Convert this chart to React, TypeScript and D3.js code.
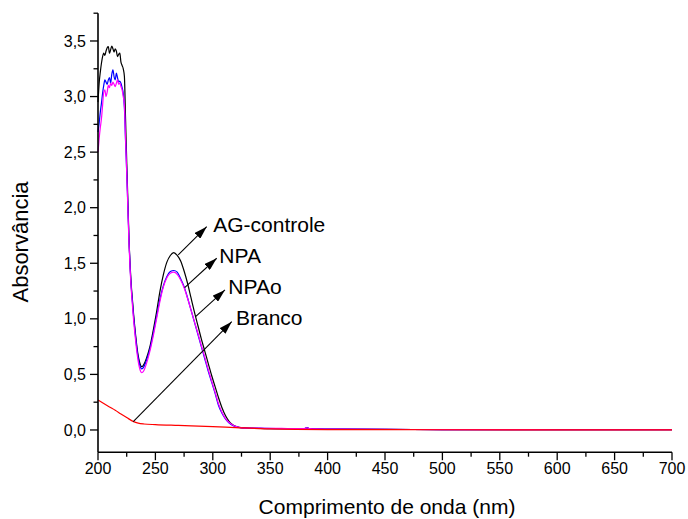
import React from "react";
import * as d3 from "d3";

// Wavelength grid (nm) shared by the three sample spectra
const lambda = [
  200, 201, 202, 203, 204, 205, 206, 207, 208, 209, 210, 211, 212, 213, 214, 215, 216, 217, 218, 219, 220, 221, 222, 223, 224,
  225, 226, 227, 228, 229, 230, 231, 232, 233, 234, 235, 236, 237, 238, 239, 240,
  242, 245, 248, 251, 254, 257, 260, 263, 266, 269, 272, 275, 278, 281, 284, 287, 290, 293, 296, 299, 302, 305, 308, 311, 314, 317, 320, 323, 326, 329,
  335, 345, 355, 365, 375, 380, 382, 384, 390, 400, 450, 500, 550, 600, 650, 700,
];

const agControle = [
  2.95, 3.12, 3.22, 3.30, 3.36, 3.39, 3.37, 3.41, 3.44, 3.45, 3.39, 3.42, 3.455, 3.43, 3.40, 3.43, 3.41, 3.36, 3.38, 3.39, 3.31, 3.28, 3.25, 3.18, 2.80,
  2.42, 2.07, 1.72, 1.48, 1.30, 1.17, 1.04, 0.93, 0.83, 0.74, 0.67, 0.62, 0.585, 0.57, 0.575, 0.59,
  0.64, 0.74, 0.89, 1.06, 1.25, 1.40, 1.51, 1.57, 1.595, 1.57, 1.52, 1.43, 1.32, 1.19, 1.06, 0.94, 0.82, 0.71, 0.60, 0.49, 0.39, 0.29, 0.20, 0.13, 0.08, 0.05, 0.033, 0.024, 0.019, 0.017,
  0.015, 0.013, 0.012, 0.012, 0.011, 0.012, 0.02, 0.012, 0.009, 0.008, 0.005, 0.004, 0.003, 0.002, 0.002, 0.002,
];

const npa = [
  2.68, 2.76, 2.86, 2.94, 3.03, 3.10, 3.15, 3.13, 3.11, 3.15, 3.17, 3.12, 3.20, 3.24, 3.18, 3.15, 3.21, 3.17, 3.13, 3.14, 3.12, 3.08, 3.03, 2.90, 2.60,
  2.33, 2.02, 1.70, 1.46, 1.28, 1.15, 1.02, 0.91, 0.81, 0.72, 0.65, 0.60, 0.565, 0.55, 0.555, 0.57,
  0.62, 0.72, 0.86, 1.02, 1.18, 1.30, 1.38, 1.425, 1.435, 1.42, 1.36, 1.29, 1.19, 1.08, 0.97, 0.86, 0.75, 0.64, 0.53, 0.43, 0.33, 0.22, 0.15, 0.10, 0.065, 0.043, 0.03, 0.022, 0.018, 0.016,
  0.016, 0.014, 0.013, 0.013, 0.012, 0.013, 0.022, 0.012, 0.009, 0.008, 0.005, 0.004, 0.003, 0.002, 0.002, 0.002,
];

const npao = [
  2.50, 2.62, 2.72, 2.80, 2.92, 3.04, 3.06, 3.00, 3.04, 3.10, 3.08, 3.12, 3.10, 3.13, 3.11, 3.09, 3.12, 3.15, 3.11, 3.12, 3.09, 3.06, 3.00, 2.92, 2.62,
  2.32, 2.00, 1.68, 1.44, 1.26, 1.12, 0.99, 0.88, 0.78, 0.69, 0.62, 0.565, 0.53, 0.515, 0.52, 0.535,
  0.59, 0.70, 0.84, 1.00, 1.16, 1.29, 1.37, 1.41, 1.42, 1.40, 1.35, 1.28, 1.185, 1.08, 0.975, 0.87, 0.76, 0.655, 0.545, 0.44, 0.34, 0.235, 0.16, 0.105, 0.07, 0.047, 0.032, 0.024, 0.019, 0.017,
  0.017, 0.015, 0.014, 0.013, 0.012, 0.013, 0.02, 0.012, 0.009, 0.008, 0.005, 0.004, 0.003, 0.002, 0.002, 0.002,
];

// Blank (Branco) spectrum
const lambdaBranco = [200, 205, 210, 215, 220, 225, 231, 235, 240, 250, 270, 300, 320, 350, 400, 500, 700];
const branco = [0.27, 0.238, 0.207, 0.177, 0.144, 0.112, 0.075, 0.062, 0.054, 0.048, 0.041, 0.031, 0.022, 0.01, 0.004, 0.002, 0.001];

const xTicks = [200, 250, 300, 350, 400, 450, 500, 550, 600, 650, 700];
const xMinorTicks = [225, 275, 325, 375, 425, 475, 525, 575, 625, 675];
const yTicks = [0, 0.5, 1.0, 1.5, 2.0, 2.5, 3.0, 3.5];
const yMinorTicks = [0.25, 0.75, 1.25, 1.75, 2.25, 2.75, 3.25, 3.75];

const xLabel = "Comprimento de onda (nm)";
const yLabel = "Absorvância";

// Annotations: label, arrow start (on curve), arrow tip, text anchor (data units)
const annLabels = ["AG-controle", "NPA", "NPAo", "Branco"];
const annStart = [[269.9, 1.575], [275.5, 1.28], [285.0, 1.02], [230.7, 0.075]];
const annTip = [[294.7, 1.829], [303.4, 1.545], [310.6, 1.26], [316.5, 0.974]];
const annText = [[300.4, 1.784], [305.7, 1.50], [313.5, 1.221], [320.2, 0.945]];

const FONT = "'Liberation Sans', Arial, Helvetica, sans-serif";

export default function App() {
  const W = 688;
  const H = 519;
  const x = d3.scaleLinear().domain([200, 700]).range([98, 672]);
  const y = d3.scaleLinear().domain([-0.2, 3.75]).range([452.2, 13.2]);

  const line = d3
    .line<[number, number]>()
    .x((d) => x(d[0]))
    .y((d) => y(d[1]))
    .curve(d3.curveMonotoneX);

  const mk = (xs: number[], ys: number[]) => xs.map((v, i) => [v, ys[i]] as [number, number]);

  const series = [
    { data: mk(lambda, agControle), color: "#000000" },
    { data: mk(lambda, npa), color: "#0000ff" },
    { data: mk(lambda, npao), color: "#ff00ff" },
    { data: mk(lambdaBranco, branco), color: "#ff0000" },
  ];

  const x0 = x(200);
  const yb = y(-0.2);
  const yt = y(3.75);

  return (
    <svg
      width={W}
      height={H}
      style={{ position: "fixed", left: 0, top: 0, background: "#fff" }}
      fontFamily={FONT}
    >
      <rect x={0} y={0} width={W} height={H} fill="#fff" />
      <defs>
        <marker id="arrow" viewBox="0 0 13 8" refX={13} refY={4} markerWidth={13} markerHeight={8} markerUnits="userSpaceOnUse" orient="auto">
          <path d="M0,0 L13,4 L0,8 Z" fill="#000" />
        </marker>
      </defs>

      {series.map((s, i) => (
        <path key={i} d={line(s.data) || ""} fill="none" stroke={s.color} strokeWidth={1.2} />
      ))}

      {/* Axes */}
      <line x1={x0} x2={x0} y1={yt} y2={yb} stroke="#000" strokeWidth={1.6} />
      <line x1={x0} x2={x(700)} y1={yb} y2={yb} stroke="#000" strokeWidth={1.6} />

      {yTicks.map((t) => (
        <g key={"y" + t}>
          <line x1={x0 - 8} x2={x0} y1={y(t)} y2={y(t)} stroke="#000" strokeWidth={1.3} />
          <text x={x0 - 12} y={y(t)} dy="0.35em" textAnchor="end" fontSize={16}>
            {t.toFixed(1).replace(".", ",")}
          </text>
        </g>
      ))}
      {yMinorTicks.map((t) => (
        <line key={"ym" + t} x1={x0 - 4.5} x2={x0} y1={y(t)} y2={y(t)} stroke="#000" strokeWidth={1.3} />
      ))}

      {xTicks.map((t) => (
        <g key={"x" + t}>
          <line x1={x(t)} x2={x(t)} y1={yb} y2={yb + 8} stroke="#000" strokeWidth={1.3} />
          <text x={x(t)} y={yb + 22} textAnchor="middle" fontSize={16}>
            {t}
          </text>
        </g>
      ))}
      {xMinorTicks.map((t) => (
        <line key={"xm" + t} x1={x(t)} x2={x(t)} y1={yb} y2={yb + 4.5} stroke="#000" strokeWidth={1.3} />
      ))}

      <text x={(x0 + x(700)) / 2 + 2} y={514} textAnchor="middle" fontSize={21}>
        {xLabel}
      </text>
      <text transform={`translate(28, 242) rotate(-90)`} textAnchor="middle" fontSize={22}>
        {yLabel}
      </text>

      {annLabels.map((lab, i) => (
        <g key={lab}>
          <line
            x1={x(annStart[i][0])}
            y1={y(annStart[i][1])}
            x2={x(annTip[i][0])}
            y2={y(annTip[i][1])}
            stroke="#000"
            strokeWidth={1.1}
            markerEnd="url(#arrow)"
          />
          <text x={x(annText[i][0])} y={y(annText[i][1])} fontSize={21}>
            {lab}
          </text>
        </g>
      ))}
    </svg>
  );
}
